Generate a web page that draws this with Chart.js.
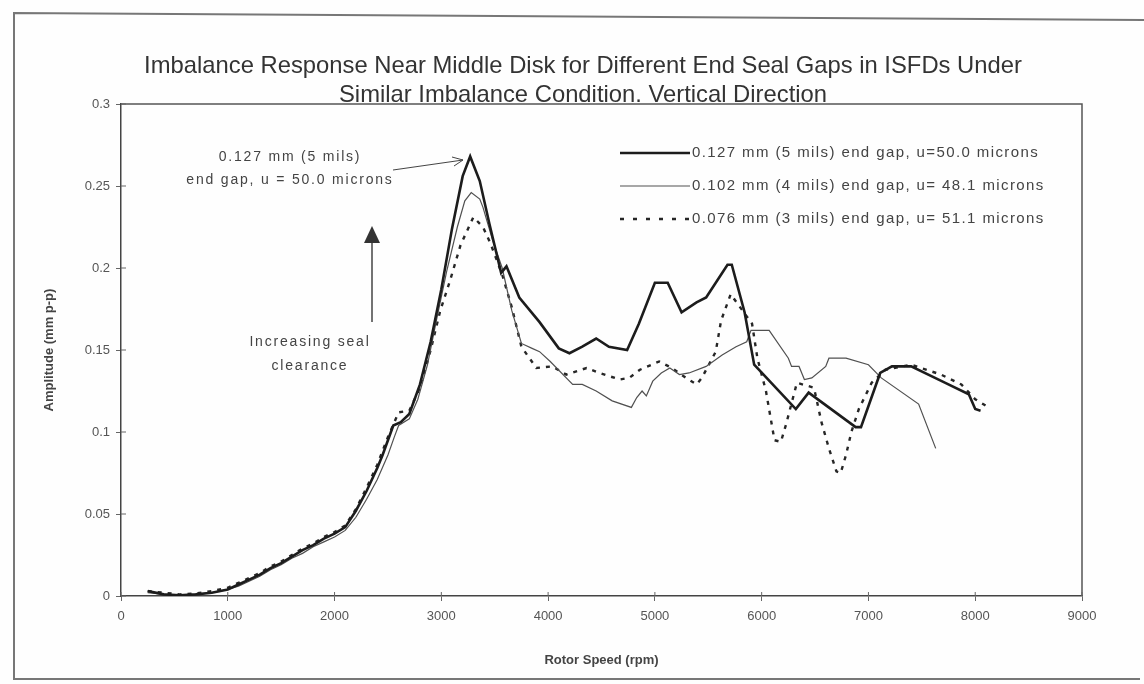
<!doctype html>
<html lang="en">
<head>
  <meta charset="utf-8">
  <title>Imbalance Response Near Middle Disk</title>
  <script src="https://cdn.jsdelivr.net/npm/chart.js@4"></script>
  <style>
    html, body { margin: 0; padding: 0; background: #fff; }
    canvas { display: block; }
  </style>
</head>
<body>
<canvas id="chart" width="1144" height="684"></canvas>
<script>
  // values (rpm, amplitude mm p-p)
  const titleLines = [
    'Imbalance Response Near Middle Disk for Different End Seal Gaps in ISFDs Under',
    'Similar Imbalance Condition. Vertical Direction'
  ]
  const seriesLabels = [
    '0.127 mm (5 mils) end gap, u=50.0 microns',
    '0.102 mm (4 mils) end gap, u= 48.1 microns',
    '0.076 mm (3 mils) end gap, u= 51.1 microns'
  ]

  const rpm127 = [250, 400, 550, 700, 850, 1000, 1100, 1200, 1300, 1400, 1500, 1600, 1700, 1800, 1900, 2000,
    2100, 2200, 2300, 2400, 2450, 2500, 2550, 2620, 2700, 2800, 2900, 3000, 3100, 3200, 3270, 3360, 3450,
    3560, 3610, 3730, 3920, 4100, 4200, 4320, 4450, 4570, 4740, 4850, 5000, 5120, 5250, 5390, 5480, 5680,
    5720, 5840, 5930, 6320, 6440, 6880, 6930, 7110, 7220, 7400, 7720, 7940, 8000, 8050]
  const amp127 = [0.003, 0.001, 0.0005, 0.001, 0.002, 0.004, 0.007, 0.010, 0.013, 0.017, 0.020, 0.024, 0.028,
    0.031, 0.035, 0.038, 0.042, 0.052, 0.064, 0.078, 0.086, 0.095, 0.104, 0.106, 0.111, 0.129, 0.155, 0.187,
    0.224, 0.256, 0.268, 0.253, 0.227, 0.197, 0.201, 0.182, 0.167, 0.151, 0.148, 0.152, 0.157, 0.152, 0.150,
    0.166, 0.191, 0.191, 0.173, 0.179, 0.182, 0.202, 0.202, 0.173, 0.141, 0.114, 0.124, 0.103, 0.103, 0.136,
    0.140, 0.140, 0.130, 0.123, 0.114, 0.113]

  const rpm102 = [250, 400, 550, 700, 850, 1000, 1100, 1200, 1300, 1400, 1500, 1600, 1700, 1800, 1900, 2000,
    2100, 2200, 2300, 2400, 2500, 2560, 2600, 2700, 2780, 2870, 2960, 3050, 3150, 3220, 3280, 3360, 3390,
    3480, 3570, 3660, 3750, 3850, 3920, 4020, 4230, 4320, 4450, 4600, 4780, 4830, 4880, 4920, 4980, 5060,
    5140, 5230, 5320, 5480, 5630, 5760, 5860, 5900, 6070, 6250, 6280, 6350, 6400, 6470, 6600, 6630, 6790,
    7000, 7120, 7470, 7630]
  const amp102 = [0.002, 0.001, 0.0, 0.001, 0.002, 0.004, 0.006, 0.009, 0.012, 0.016, 0.019, 0.023, 0.026,
    0.030, 0.033, 0.036, 0.040, 0.048, 0.059, 0.071, 0.086, 0.097, 0.104, 0.108, 0.120, 0.141, 0.170, 0.198,
    0.225, 0.241, 0.246, 0.242, 0.237, 0.217, 0.200, 0.174, 0.154, 0.151, 0.149, 0.143, 0.129, 0.129, 0.125,
    0.119, 0.115, 0.121, 0.125, 0.122, 0.131, 0.136, 0.139, 0.135, 0.136, 0.140, 0.147, 0.152, 0.155, 0.162,
    0.162, 0.145, 0.140, 0.140, 0.132, 0.133, 0.140, 0.145, 0.145, 0.141, 0.133, 0.117, 0.090]

  const rpm076 = [250, 400, 550, 700, 850, 1000, 1100, 1200, 1300, 1400, 1500, 1600, 1700, 1800, 1900, 2000,
    2100, 2200, 2300, 2400, 2500, 2600, 2700, 2800, 2900, 2990, 3080, 3180, 3300, 3390, 3460, 3570, 3660,
    3750, 3890, 4040, 4170, 4360, 4480, 4670, 4760, 4860, 5040, 5160, 5290, 5390, 5440, 5570, 5620, 5710,
    5910, 5960, 6040, 6120, 6180, 6230, 6330, 6490, 6560, 6630, 6700, 6740, 6790, 6840, 6910, 7030, 7160,
    7400, 7680, 7870, 8000, 8100]
  const amp076 = [0.003, 0.002, 0.001, 0.0015, 0.003, 0.005, 0.008, 0.011, 0.014, 0.018, 0.021, 0.025, 0.029,
    0.032, 0.036, 0.039, 0.043, 0.053, 0.066, 0.080, 0.097, 0.112, 0.113, 0.127, 0.150, 0.174, 0.192, 0.214,
    0.231, 0.225, 0.215, 0.196, 0.176, 0.152, 0.139, 0.140, 0.135, 0.139, 0.136, 0.132, 0.133, 0.138, 0.143,
    0.139, 0.133, 0.129, 0.133, 0.149, 0.168, 0.184, 0.166, 0.145, 0.125, 0.095, 0.094, 0.105, 0.130, 0.127,
    0.106, 0.090, 0.076, 0.075, 0.086, 0.100, 0.114, 0.130, 0.138, 0.141, 0.135, 0.129, 0.120, 0.116]

  const toPoints = (xs, ys) => xs.map((x, i) => ({x, y: ys[i]}))

  const ink = '#333'
  const textFont = '"Liberation Sans", Arial, sans-serif'

  // title, legend, frame and the two hand-drawn notes
  const decorations = {
    id: 'decorations',
    beforeDraw(chart) {
      const ctx = chart.ctx
      ctx.save()
      ctx.fillStyle = '#fefefe'
      ctx.fillRect(0, 0, chart.width, chart.height)
      ctx.restore()
    },
    afterDraw(chart) {
      const ctx = chart.ctx
      const area = chart.chartArea
      const {x: xs, y: ys} = chart.scales
      ctx.save()

      // page frame
      ctx.strokeStyle = '#777'
      ctx.lineWidth = 2
      ctx.beginPath()
      ctx.moveTo(1144, 20)
      ctx.lineTo(14, 13)
      ctx.lineTo(14, 679)
      ctx.lineTo(1140, 679)
      ctx.stroke()

      // plot box, top and right
      ctx.strokeStyle = '#555'
      ctx.lineWidth = 1.5
      ctx.beginPath()
      ctx.moveTo(area.left, area.top)
      ctx.lineTo(area.right, area.top)
      ctx.lineTo(area.right, area.bottom)
      ctx.stroke()

      // tick marks cross the axes
      ctx.strokeStyle = '#666'
      ctx.lineWidth = 1
      ctx.beginPath()
      ys.ticks.forEach(t => {
        const py = ys.getPixelForValue(t.value)
        ctx.moveTo(area.left, py)
        ctx.lineTo(area.left + 5, py)
      })
      xs.ticks.forEach(t => {
        const px = xs.getPixelForValue(t.value)
        ctx.moveTo(px, area.bottom)
        ctx.lineTo(px, area.bottom - 4)
      })
      ctx.stroke()

      // title
      ctx.fillStyle = ink
      ctx.textAlign = 'center'
      ctx.textBaseline = 'middle'
      ctx.font = '23.8px "Liberation Sans Narrow", "Liberation Sans", Arial, sans-serif'
      ctx.fillText(titleLines[0], 583, 66)
      ctx.fillText(titleLines[1], 583, 95)

      // legend
      const styles = chart.data.datasets
      ctx.font = '15px ' + textFont
      ctx.letterSpacing = '1.4px'
      ctx.textAlign = 'left'
      seriesLabels.forEach((label, i) => {
        const y = 153 + i * 33
        const ds = styles[i]
        ctx.strokeStyle = ds.borderColor
        ctx.lineWidth = ds.borderWidth
        ctx.setLineDash(i === 2 ? [4, 9] : [])
        ctx.beginPath()
        ctx.moveTo(620, y)
        ctx.lineTo(690, y)
        ctx.stroke()
        ctx.setLineDash([])
        ctx.fillStyle = '#444'
        ctx.fillText(label, 692, y)
      })

      // note on the peak
      ctx.font = '14px ' + textFont
      ctx.letterSpacing = '1.8px'
      ctx.textAlign = 'center'
      ctx.fillText('0.127 mm (5 mils)', 290, 157)
      ctx.fillText('end gap, u = 50.0 microns', 290, 180)
      ctx.strokeStyle = '#444'
      ctx.lineWidth = 1
      ctx.beginPath()
      ctx.moveTo(393, 170)
      ctx.lineTo(463, 160)
      ctx.moveTo(463, 160)
      ctx.lineTo(452, 157)
      ctx.moveTo(463, 160)
      ctx.lineTo(454, 166)
      ctx.stroke()

      // increasing clearance arrow
      ctx.strokeStyle = '#444'
      ctx.lineWidth = 1.5
      ctx.beginPath()
      ctx.moveTo(372, 322)
      ctx.lineTo(372, 240)
      ctx.stroke()
      ctx.fillStyle = '#333'
      ctx.beginPath()
      ctx.moveTo(372, 226)
      ctx.lineTo(380, 243)
      ctx.lineTo(364, 243)
      ctx.closePath()
      ctx.fill()
      ctx.fillStyle = '#444'
      ctx.fillText('Increasing seal', 310, 342)
      ctx.fillText('clearance', 310, 366)

      ctx.letterSpacing = '0px'
      ctx.restore()
    }
  }

  new Chart(document.getElementById('chart'), {
    type: 'line',
    data: {
      datasets: [
        {
          label: seriesLabels[0],
          data: toPoints(rpm127, amp127),
          borderColor: '#1c1c1c',
          borderWidth: 2.6,
        },
        {
          label: seriesLabels[1],
          data: toPoints(rpm102, amp102),
          borderColor: '#505050',
          borderWidth: 1.2,
        },
        {
          label: seriesLabels[2],
          data: toPoints(rpm076, amp076),
          borderColor: '#262626',
          borderWidth: 2.4,
          borderDash: [4, 6],
        },
      ]
    },
    options: {
      responsive: false,
      animation: false,
      devicePixelRatio: 1,
      elements: {
        point: { radius: 0 },
        line: { tension: 0, fill: false }
      },
      layout: {
        padding: { left: 0, top: 104, right: 62, bottom: 0 }
      },
      scales: {
        x: {
          type: 'linear',
          min: 0,
          max: 9000,
          afterFit(scale) { scale.height = 88 },
          border: { color: '#444', width: 1.5 },
          grid: { drawOnChartArea: false, tickLength: 5, color: '#666' },
          ticks: {
            stepSize: 1000,
            padding: 8,
            color: '#555',
            font: { family: textFont, size: 13 },
            maxRotation: 0,
            callback: v => String(v)
          },
          title: {
            display: true,
            text: 'Rotor Speed (rpm)',
            color: '#444',
            font: { family: textFont, size: 13, weight: 'bold' },
            padding: { top: 0, bottom: 16 }
          }
        },
        y: {
          type: 'linear',
          min: 0,
          max: 0.3,
          afterFit(scale) { scale.width = 121 },
          border: { color: '#444', width: 1.5 },
          grid: { drawOnChartArea: false, tickLength: 5, color: '#666' },
          ticks: {
            stepSize: 0.05,
            padding: 6,
            color: '#555',
            font: { family: textFont, size: 13 },
            callback: v => String(Math.round(v * 100) / 100)
          },
          title: {
            display: true,
            text: 'Amplitude (mm p-p)',
            color: '#444',
            font: { family: textFont, size: 13, weight: 'bold' },
            padding: { top: 42, bottom: 0 }
          }
        }
      },
      plugins: {
        legend: { display: false },
        title: { display: false },
        tooltip: { enabled: false }
      }
    },
    plugins: [decorations]
  })
</script>
</body>
</html>
